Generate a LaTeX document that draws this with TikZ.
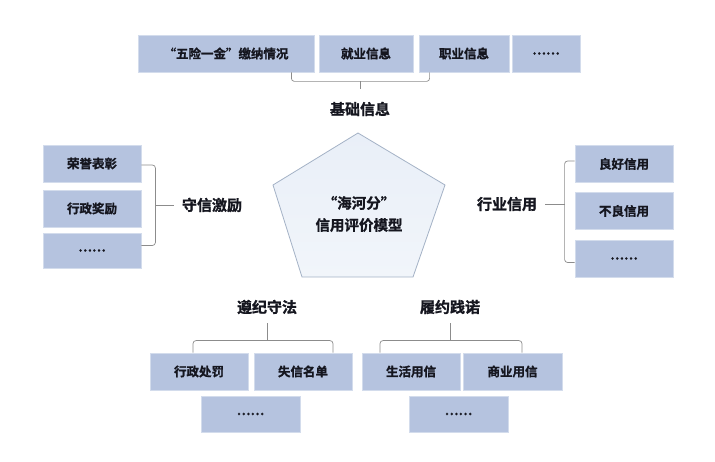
\documentclass[tikz,border=0pt]{standalone}
\usepackage{fontspec}
\setmainfont{Noto Sans CJK SC}[BoldFont={Noto Sans CJK SC Bold},BoldFeatures={FakeBold=1.2}]
\usetikzlibrary{positioning,calc}

\definecolor{boxblue}{HTML}{B5C3DF}
\definecolor{boxedge}{HTML}{D3DCEC}
\definecolor{textdark}{HTML}{15161F}
\definecolor{bracegray}{HTML}{8C8C8C}
\definecolor{pentaedge}{HTML}{A4B2C6}
\definecolor{pentatop}{HTML}{E9EFF8}
\definecolor{pentamid}{HTML}{C9D9EC}
\definecolor{pentabot}{HTML}{F1F5FA}

\begin{document}
\begin{tikzpicture}[x=1pt,y=-1pt,
	box/.style={fill=boxblue,draw=boxedge,line width=0.8pt,minimum width=98pt,minimum height=37pt,inner sep=0pt,font=\fontsize{12.5}{14}\selectfont\bfseries,text=textdark},
	title/.style={inner sep=2pt,font=\fontsize{15}{17}\selectfont\bfseries,text=textdark},
	brace/.style={draw=bracegray,line width=0.7pt,rounded corners=3pt}]
		\fill[white] (0,0) rectangle (715,462);
		\useasboundingbox (0,0) rectangle (715,462);

		% centre
		\draw[draw=pentaedge,line width=0.8pt,top color=pentatop,middle color=pentamid,bottom color=pentabot] (358,133) -- (445,185) -- (413,277) -- (302,277) -- (273,185) -- cycle;
		\node[title,align=center,font=\fontsize{14.5}{22}\selectfont\bfseries] (mx) at (359,214) {“海河分”\\信用评价模型};

		% top
		\node[box,minimum width=176pt] (wx) at (226,53.5) {“五险一金”缴纳情况};
		\node[box,minimum width=94pt] (jy) at (366,53.5) {就业信息};
		\node[box,minimum width=90pt] (zy) at (464,53.5) {职业信息};
		\node[box,minimum width=68pt] (td) at (546,53.5) {……};
		\node[title] (jc) at (360,109) {基础信息};

		% left
		\node[box] (ry) at (92,163.5) {荣誉表彰};
		\node[box] (jl) at (92,208.5) {行政奖励};
		\node[box,minimum height=35pt] (ld) at (92,250.5) {……};
		\node[title] (sx) at (212,205) {守信激励};

		% right
		\node[box] (lh) at (624,164) {良好信用};
		\node[box] (bl) at (624,211) {不良信用};
		\node[box] (rd) at (624,258.5) {……};
		\node[title] (hy) at (507,204) {行业信用};

		% bottom
		\node[title] (zj) at (267,307) {遵纪守法};
		\node[title] (ly) at (450,307) {履约践诺};
		\node[box] (cf) at (199,371.5) {行政处罚};
		\node[box] (md) at (303,371.5) {失信名单};
		\node[box] (sh) at (411,371.5) {生活用信};
		\node[box,minimum width=99pt] (sy) at (512.5,371.5) {商业用信};
		\node[box,minimum width=99pt,minimum height=36pt] (bd1) at (250.5,414) {……};
		\node[box,minimum width=99pt,minimum height=36pt] (bd2) at (458.5,414) {……};

		\draw[brace] ([xshift=-23pt]wx.south east) -- ++(0,9) coordinate (t1) -| ([xshift=11pt]zy.south west);
		\draw[brace,shorten <=11pt] (jc.north) -- (jc.north |- t1);

		\draw[brace] ([yshift=-1.5pt]ry.east) -- ++(14,0) coordinate (l1) |- ([yshift=5pt]ld.east);
		\draw[brace,shorten <=6pt] (sx.west) -- (sx.west -| l1);

		\draw[brace] ([yshift=3pt]lh.west) -- ++(-10,0) coordinate (r1) |- ([yshift=-4pt]rd.west);
		\draw[brace,shorten <=6pt] (hy.east) -- (hy.east -| r1);

		\draw[brace] ([xshift=-6pt]cf.north) -- ++(0,-12) coordinate (b1) -| ([xshift=30pt]md.north);
		\draw[brace,shorten <=7pt] (zj.south) -- (zj.south |- b1);

		\draw[brace] ([xshift=-31pt]sh.north) -- ++(0,-12) coordinate (b2) -| ([xshift=9.5pt]sy.north);
		\draw[brace,shorten <=7pt] (ly.south) -- (ly.south |- b2);
	\end{tikzpicture}
\end{document}
